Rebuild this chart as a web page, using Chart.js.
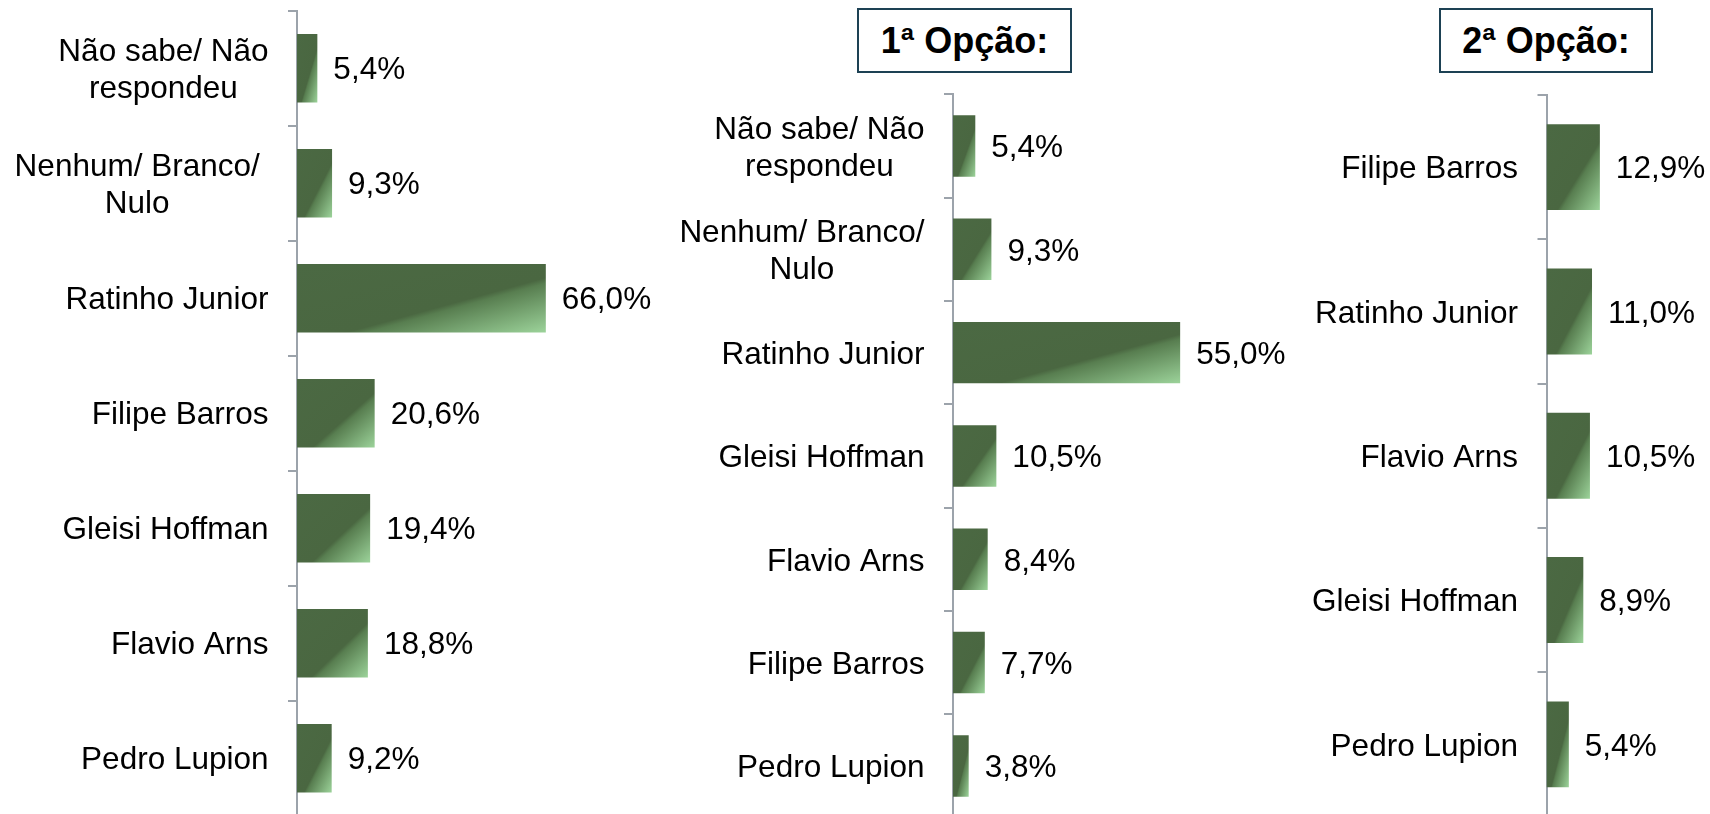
<!DOCTYPE html>
<html>
<head>
<meta charset="utf-8">
<script src="https://cdn.jsdelivr.net/npm/chart.js@4.4.1/dist/chart.umd.min.js"></script>
<style>
    html, body { margin: 0; padding: 0; background: #fff; overflow: hidden; width: 1710px; height: 814px; }
    canvas { position: absolute; top: 0; }
    .titleBox {
        position: absolute; top: 8px; height: 65px; width: 214px;
        box-sizing: border-box; border: 2px solid #1d4154; background: #fff;
        display: flex; align-items: center; justify-content: center;
        font: bold 36px 'Liberation Sans', Arial, sans-serif; color: #000;
    }
</style>
</head>
<body>
<div class="titleBox" style="left:857px;width:215px;">1ª Opção:</div>
<div class="titleBox" style="left:1439px;">2ª Opção:</div>
<canvas id="chartTotal" width="674" height="820" style="left:0px"></canvas>
<canvas id="chartOpcao1" width="706" height="820" style="left:660px"></canvas>
<canvas id="chartOpcao2" width="422" height="820" style="left:1290px"></canvas>
<script>
// Total (sem título)
const totalLabels = [['Não sabe/ Não', 'respondeu'], ['Nenhum/ Branco/ ', 'Nulo'], 'Ratinho Junior', 'Filipe Barros', 'Gleisi Hoffman', 'Flavio Arns', 'Pedro Lupion'];
const totalValues = [5.4, 9.3, 66.0, 20.6, 19.4, 18.8, 9.2];

// 1ª Opção
const opcao1Labels = [['Não sabe/ Não', 'respondeu'], ['Nenhum/ Branco/', 'Nulo'], 'Ratinho Junior', 'Gleisi Hoffman', 'Flavio Arns', 'Filipe Barros', 'Pedro Lupion'];
const opcao1Values = [5.4, 9.3, 55.0, 10.5, 8.4, 7.7, 3.8];

// 2ª Opção
const opcao2Labels = ['Filipe Barros', 'Ratinho Junior', 'Flavio Arns', 'Gleisi Hoffman', 'Pedro Lupion'];
const opcao2Values = [12.9, 11.0, 10.5, 8.9, 5.4];

const FS = 31.5;
const FONT = FS + "px 'Liberation Sans', Arial, sans-serif";
const LINE_H = 36.7;
const CAP_MID = 0.358;
const LABEL_GAP = 28.5;
const VALUE_GAP = 16;
const BAR_PCT = 0.595;
const AXIS_COLOR = '#9ca3ab';
const DARK_GREEN = '#4a6741';

function barFill(context) {
    const chart = context.chart;
    const xs = chart.scales.x, ys = chart.scales.y;
    if (!xs || !ys || context.type !== 'data') return DARK_GREEN;
    const v = context.raw;
    const x0 = xs.getPixelForValue(0), x1 = xs.getPixelForValue(v);
    const h = ys.height / chart.data.labels.length * BAR_PCT;
    const y0 = ys.getPixelForValue(context.dataIndex) - h / 2;
    const w = x1 - x0;
    if (![x0, x1, h, y0, w].every(Number.isFinite) || w <= 0 || h <= 0) return DARK_GREEN;
    // gradiente diagonal que acompanha a forma da barra
    const k = 2 * w * h / (w * w + h * h);
    const g = chart.ctx.createLinearGradient(x0, y0, x0 + h * k, y0 + w * k);
    g.addColorStop(0, '#4b6943');
    g.addColorStop(0.6, '#4a6741');
    g.addColorStop(0.64, '#587e50');
    g.addColorStop(1, '#9cd39a');
    return g;
}

const rotulosPlugin = {
    id: 'rotulos',
    afterDatasetsDraw(chart) {
        const ctx = chart.ctx;
        const ys = chart.scales.y;
        const meta = chart.getDatasetMeta(0);
        ctx.save();
        ctx.font = FONT;
        ctx.fillStyle = '#000';
        ctx.textBaseline = 'alphabetic';

        // nomes das categorias
        chart.data.labels.forEach((lab, i) => {
            const lines = Array.isArray(lab) ? lab : [lab];
            const yc = ys.getPixelForValue(i);
            const right = chart.chartArea.left - LABEL_GAP;
            let wMax = 0, visMax = 0;
            lines.forEach(l => {
                const w = ctx.measureText(l).width;
                if (w > wMax) {
                    wMax = w;
                    visMax = ctx.measureText(l.trimEnd()).width;
                }
            });
            const cx = right - wMax + visMax / 2;
            ctx.textAlign = 'center';
            const b0 = yc + CAP_MID * FS - (lines.length - 1) * LINE_H / 2;
            lines.forEach((l, k) => ctx.fillText(l.trimEnd(), cx, b0 + k * LINE_H));
        });

        // valores
        ctx.textAlign = 'left';
        meta.data.forEach((bar, i) => {
            const v = chart.data.datasets[0].data[i];
            ctx.fillText(v.toFixed(1).replace('.', ',') + '%', bar.x + VALUE_GAP, bar.y + CAP_MID * FS);
        });
        ctx.restore();
    }
};

function makeChart(canvasId, labels, values, axisLeft, top, bottom, max) {
    const ctx = document.getElementById(canvasId).getContext('2d');
    const chart = new Chart(ctx, {
        type: 'bar',
        data: {
            labels: labels,
            datasets: [{
                data: values,
                backgroundColor: barFill,
                borderWidth: 0,
                categoryPercentage: 1,
                barPercentage: BAR_PCT
            }]
        },
        options: {
            indexAxis: 'y',
            responsive: false,
            animation: false,
            events: [],
            layout: {
                padding: { left: 0, right: 0, top: top, bottom: 820 - bottom }
            },
            scales: {
                x: {
                    display: false,
                    min: 0,
                    max: max
                },
                y: {
                    type: 'category',
                    position: 'left',
                    offset: true,
                    grid: {
                        offset: true,
                        drawOnChartArea: false,
                        drawTicks: true,
                        tickLength: 9,
                        color: AXIS_COLOR,
                        lineWidth: 2
                    },
                    border: {
                        display: true,
                        color: AXIS_COLOR,
                        width: 2
                    },
                    ticks: { display: false },
                    afterFit: function(scale) {
                        scale.width = axisLeft;
                    }
                }
            },
            plugins: {
                legend: { display: false },
                tooltip: { enabled: false }
            }
        },
        plugins: [rotulosPlugin]
    });
    // segundo passe para os gradientes usarem as escalas já montadas
    chart.update('none');
    return chart;
}

makeChart('chartTotal', totalLabels, totalValues, 297, 10.7, 815.7, 100);
makeChart('chartOpcao1', opcao1Labels, opcao1Values, 293, 94.3, 817.6, 100);
makeChart('chartOpcao2', opcao2Labels, opcao2Values, 256.5, 95, 816.5, 40);
</script>
</body>
</html>
